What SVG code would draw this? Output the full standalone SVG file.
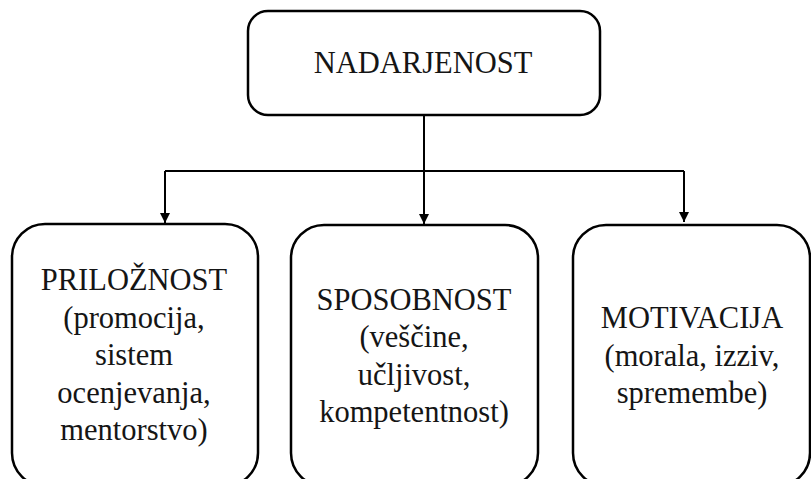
<svg xmlns="http://www.w3.org/2000/svg" width="811" height="479" viewBox="0 0 811 479">
<style>
.box{fill:#fff;stroke:#000;stroke-width:2.5}
.t{font-family:'Liberation Serif','Times New Roman',serif;font-size:30.5px;fill:#151515;text-anchor:middle}
.c{fill:none;stroke:#000;stroke-width:2}
</style>
<defs>
<marker id="ah" viewBox="0 0 10 12" refX="10" refY="6" markerWidth="10" markerHeight="12" markerUnits="userSpaceOnUse" orient="auto">
<path d="M0,1 L10,6 L0,11 z" fill="#000"/>
</marker>
</defs>
<rect width="811" height="479" fill="#fff"/>
<g id="connectors">
<path class="c" d="M424,115 V224" marker-end="url(#ah)"/>
<path class="c" d="M165,171 H684"/>
<path class="c" d="M165,171 V223" marker-end="url(#ah)"/>
<path class="c" d="M684,171 V222" marker-end="url(#ah)"/>
</g>
<g id="nadarjenost">
<rect class="box" x="248" y="11" width="352" height="104" rx="20"/>
<text class="t" x="423" y="73">NADARJENOST</text>
</g>
<g id="priloznost">
<rect class="box" x="12" y="224" width="246" height="262" rx="33"/>
<text class="t" x="134" y="290">PRILOŽNOST</text>
<text class="t" x="134" y="327.5">(promocija,</text>
<text class="t" x="134" y="365">sistem</text>
<text class="t" x="134" y="402.5">ocenjevanja,</text>
<text class="t" x="134" y="440">mentorstvo)</text>
</g>
<g id="sposobnost">
<rect class="box" x="291" y="225" width="247" height="261" rx="33"/>
<text class="t" x="414" y="309.5">SPOSOBNOST</text>
<text class="t" x="414" y="347">(veščine,</text>
<text class="t" x="414" y="384.5">učljivost,</text>
<text class="t" x="414" y="422">kompetentnost)</text>
</g>
<g id="motivacija">
<rect class="box" x="573" y="225" width="237" height="261" rx="33"/>
<text class="t" x="692" y="328">MOTIVACIJA</text>
<text class="t" x="692" y="365.5">(morala, izziv,</text>
<text class="t" x="692" y="403">spremembe)</text>
</g>
</svg>
